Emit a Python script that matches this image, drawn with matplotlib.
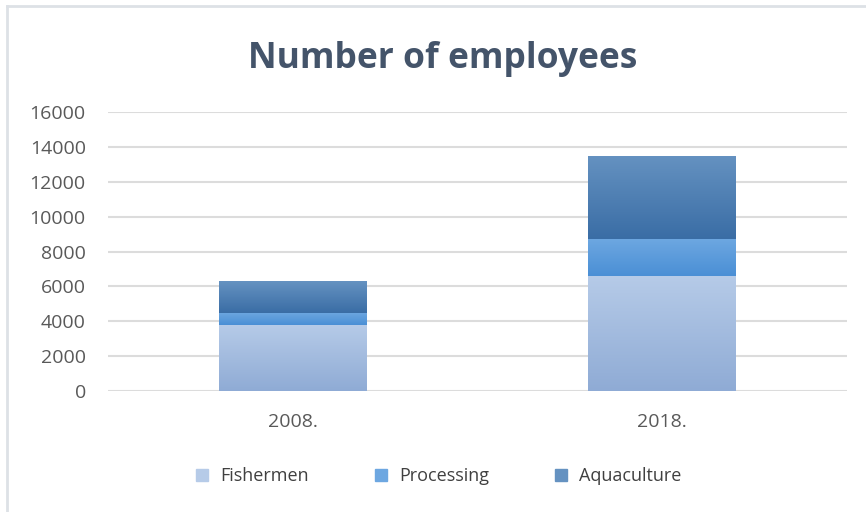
import numpy as np
import matplotlib.pyplot as plt
from matplotlib.colors import LinearSegmentedColormap
from matplotlib.lines import Line2D

plt.rcParams['font.family'] = ['Open Sans', 'DejaVu Sans']

years = ['2008.', '2018.']
fishermen = [3800, 6600]
processing = [700, 2100]
aquaculture = [1800, 4800]

series = [
    ('Fishermen', fishermen, '#b6cbe8', '#8fabd5'),
    ('Processing', processing, '#6da7e1', '#4a8fd5'),
    ('Aquaculture', aquaculture, '#6592c1', '#3a6da5'),
]

fig = plt.figure(figsize=(8.66, 5.12), dpi=100)
ax = fig.add_axes([0.1247, 0.2363, 0.978 - 0.1247, 0.78125 - 0.2363])

x = np.arange(len(years))
bottom = np.zeros(len(years))
handles = []
grad = np.linspace(0, 1, 256).reshape(-1, 1)
for name, vals, top_c, bot_c in series:
    bars = ax.bar(x, vals, width=0.4, bottom=bottom, color=bot_c,
                  linewidth=0, zorder=2)
    cmap = LinearSegmentedColormap.from_list(name, [bot_c, top_c])
    for b in bars:
        x0, y0 = b.get_x(), b.get_y()
        im = ax.imshow(grad, cmap=cmap, aspect='auto', origin='lower',
                       extent=(x0, x0 + b.get_width(), y0, y0 + b.get_height()),
                       zorder=3)
        im.set_clip_path(b)
    bottom += np.array(vals)
    handles.append(Line2D([], [], marker='s', linestyle='none',
                          markersize=8, markerfacecolor=top_c,
                          markeredgecolor=top_c, label=name))

ax.set_xlim(-0.5, 1.5)
ax.set_ylim(0, 16000)
ax.set_yticks(range(0, 16001, 2000))
ax.set_xticks(x)
ax.set_xticklabels(years)
ax.yaxis.grid(True, color='#dcdcdc', linewidth=1.5, zorder=0)
ax.set_axisbelow(True)
for s in ax.spines.values():
    s.set_visible(False)
ax.tick_params(axis='both', length=0, labelsize=14, labelcolor='#595959')
ax.tick_params(axis='y', pad=16)
ax.tick_params(axis='x', pad=16)

fig.text(0.511, 0.885, 'Number of employees', ha='center', va='center',
         fontsize=25.5, fontweight='bold', color='#44546a')

fig.legend(handles=handles, loc='center', bbox_to_anchor=(0.505, 0.07),
           ncol=3, frameon=False, fontsize=13, labelcolor='#404040',
           columnspacing=3.5, handletextpad=0.5, handlelength=1.0)

# light frame along the top and left edges
fig.add_artist(Line2D([7.5 / 866, 7.5 / 866], [0, 1 - 5.5 / 512],
                      transform=fig.transFigure, color='#dde1e6', linewidth=2))
fig.add_artist(Line2D([7.5 / 866, 1], [1 - 5.5 / 512, 1 - 5.5 / 512],
                      transform=fig.transFigure, color='#dde1e6', linewidth=2))

fig.savefig('out.png', dpi=100)
